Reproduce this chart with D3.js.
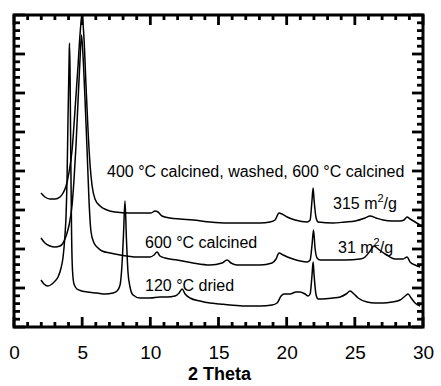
<!DOCTYPE html>
<html><head><meta charset="utf-8">
<script src="https://cdn.jsdelivr.net/npm/d3@7"></script>
<style>body{margin:0;background:#fff}svg{display:block}</style>
</head><body>
<svg id="chart" width="441" height="386"></svg>
<script>
// 2-theta (deg) and intensity (arbitrary units, offset traces)
const dried120X = [1.98,2.20,2.49,2.79,3.01,3.23,3.45,3.60,3.74,3.82,3.89,3.96,4.04,4.07,4.11,4.16,4.22,4.29,4.40,4.62,4.99,5.36,6.09,6.68,7.26,7.56,7.78,7.92,8.03,8.14,8.25,8.36,8.51,8.73,9.24,9.98,10.71,11.23,11.81,12.11,12.33,12.55,12.91,13.65,14.38,15.11,15.85,16.95,18.05,18.93,19.30,19.59,19.81,20.25,20.69,20.98,21.35,21.57,21.72,21.86,21.94,22.01,22.16,22.31,22.60,23.40,23.92,24.36,24.65,24.94,25.24,25.90,26.49,27.07,27.73,28.32,28.69,28.91,29.13,29.42,29.79];
const dried120Y = [47,43,41,43,46,50,59,70,92,112,147,207,267,284,257,177,97,57,43,38,36,35,34,33,34,36,42,62,92,126,87,55,40,32,29,29,30,30,31,34,38,33,29,26,24,23,22,21,21,22,24,31,33,33,35,35,33,31,33,52,65,52,32,28,28,29,30,33,36,33,29,25,24,24,25,27,31,33,29,24,21];

const calc600X = [1.98,2.27,2.64,3.01,3.37,3.60,3.82,4.04,4.26,4.40,4.55,4.70,4.84,4.95,5.06,5.21,5.36,5.50,5.65,5.87,6.09,6.46,7.04,7.78,9.02,9.98,10.27,10.49,10.71,11.08,11.96,13.13,14.38,15.26,15.63,15.92,16.36,17.31,18.05,18.93,19.22,19.44,19.74,20.25,20.98,21.50,21.72,21.86,21.97,22.08,22.23,22.45,23.40,24.28,25.39,25.75,26.12,26.41,26.71,27.22,27.95,28.54,28.83,29.05,29.42,29.79];
const calc600Y = [89,84,81,80,81,84,91,102,122,147,182,227,267,292,272,227,177,127,95,84,80,76,74,72,70,70,72,75,71,69,67,64,62,64,67,64,62,62,62,64,68,74,72,69,66,65,67,82,97,79,69,67,67,67,68,70,76,81,78,73,68,68,70,65,62,60];

const washedX = [1.98,2.27,2.64,3.01,3.37,3.60,3.82,4.04,4.26,4.40,4.55,4.70,4.84,4.99,5.14,5.28,5.43,5.58,5.72,5.94,6.31,6.82,7.41,8.51,9.61,10.05,10.34,10.56,10.86,11.45,12.18,13.13,14.38,15.63,16.95,18.05,18.78,19.15,19.44,19.66,20.03,20.62,21.50,21.72,21.86,21.94,22.01,22.16,22.31,23.40,24.28,25.02,25.75,26.12,26.56,27.07,27.73,28.32,28.61,28.83,29.05,29.42,29.79];
const washedY = [134,130,128,128,130,134,141,155,177,202,232,262,292,312,287,242,197,162,142,128,121,117,115,114,114,114,116,115,111,109,108,107,105,104,104,104,105,107,114,113,110,107,105,107,127,139,127,109,105,104,105,106,109,111,109,107,106,106,107,110,108,105,102];

const xTickLabels = ["0","5","10","15","20","25","30"];
const xTickValues = [0,5,10,15,20,25,30];
const xLabel = "2 Theta";

const L = 14, R = 423, T = 15, B = 327;
const svg = d3.select("#chart");
const x = d3.scaleLinear().domain([0,30]).range([L,R]);
const y = d3.scaleLinear().domain([0,312]).range([B,T]);

const font = "'Liberation Sans', Arial, Helvetica, sans-serif";

svg.append("clipPath").attr("id","clip").append("rect")
  .attr("x",L).attr("y",T).attr("width",R-L).attr("height",B-T);

const line = d3.line().x(d=>x(d[0])).y(d=>y(d[1])).curve(d3.curveMonotoneX);
const series = [[dried120X,dried120Y],[calc600X,calc600Y],[washedX,washedY]];
svg.append("g").attr("clip-path","url(#clip)").selectAll("path").data(series).join("path")
  .attr("d",s=>line(s[0].map((v,i)=>[v,s[1][i]])))
  .attr("fill","none").attr("stroke","#000").attr("stroke-width",1.5)
  .attr("stroke-linejoin","round");

const minorX = d3.range(0,31);
const tickW = 2.8;
function xTicks(g, yPos, dir){
  g.selectAll("line").data(minorX).join("line")
    .attr("x1",d=>x(d)).attr("x2",d=>x(d))
    .attr("y1",yPos).attr("y2",d=>yPos + dir*(d%5===0?10:5))
    .attr("stroke","#000").attr("stroke-width",tickW);
}
xTicks(svg.append("g"), B, -1);
xTicks(svg.append("g"), T, 1);

const yTickVals = d3.range(0,41).map(i=>i*7.8);
function yTicks(g, xPos, dir){
  g.selectAll("line").data(yTickVals).join("line")
    .attr("y1",d=>y(d)).attr("y2",d=>y(d))
    .attr("x1",xPos).attr("x2",(d,i)=>xPos + dir*(i%5===0?11:6))
    .attr("stroke","#000").attr("stroke-width",tickW);
}
yTicks(svg.append("g"), L, 1);
yTicks(svg.append("g"), R, -1);

svg.append("rect").attr("x",L).attr("y",T).attr("width",R-L).attr("height",B-T)
  .attr("fill","none").attr("stroke","#000").attr("stroke-width",3);

const xAxis = d3.axisBottom(x).tickValues(xTickValues).tickFormat((d,i)=>xTickLabels[i]).tickSize(0).tickPadding(0);
const ga = svg.append("g").attr("transform",`translate(0,${B+26})`).call(xAxis);
ga.select(".domain").remove();
ga.selectAll("text").attr("font-family",font).attr("font-size",19).attr("fill","#000").attr("dy","0.3em");

svg.append("text").attr("x",(L+R)/2+1).attr("y",380).attr("text-anchor","middle")
  .attr("font-family",font).attr("font-weight","bold").attr("font-size",18).text(xLabel);

const ann = svg.append("g").attr("font-family",font).attr("font-size",16).attr("fill","#000");
ann.append("text").attr("x",107).attr("y",177).text("400 °C calcined, washed, 600 °C calcined");
ann.append("text").attr("x",145).attr("y",248).text("600 °C calcined");
ann.append("text").attr("x",145).attr("y",291).text("120 °C dried");
const t1 = ann.append("text").attr("x",333).attr("y",209);
t1.append("tspan").text("315 m");
t1.append("tspan").attr("font-size",11).attr("dy",-7).text("2");
t1.append("tspan").attr("dy",7).text("/g");
const t2 = ann.append("text").attr("x",338).attr("y",253);
t2.append("tspan").text("31 m");
t2.append("tspan").attr("font-size",11).attr("dy",-7).text("2");
t2.append("tspan").attr("dy",7).text("/g");
</script>
</body></html>
